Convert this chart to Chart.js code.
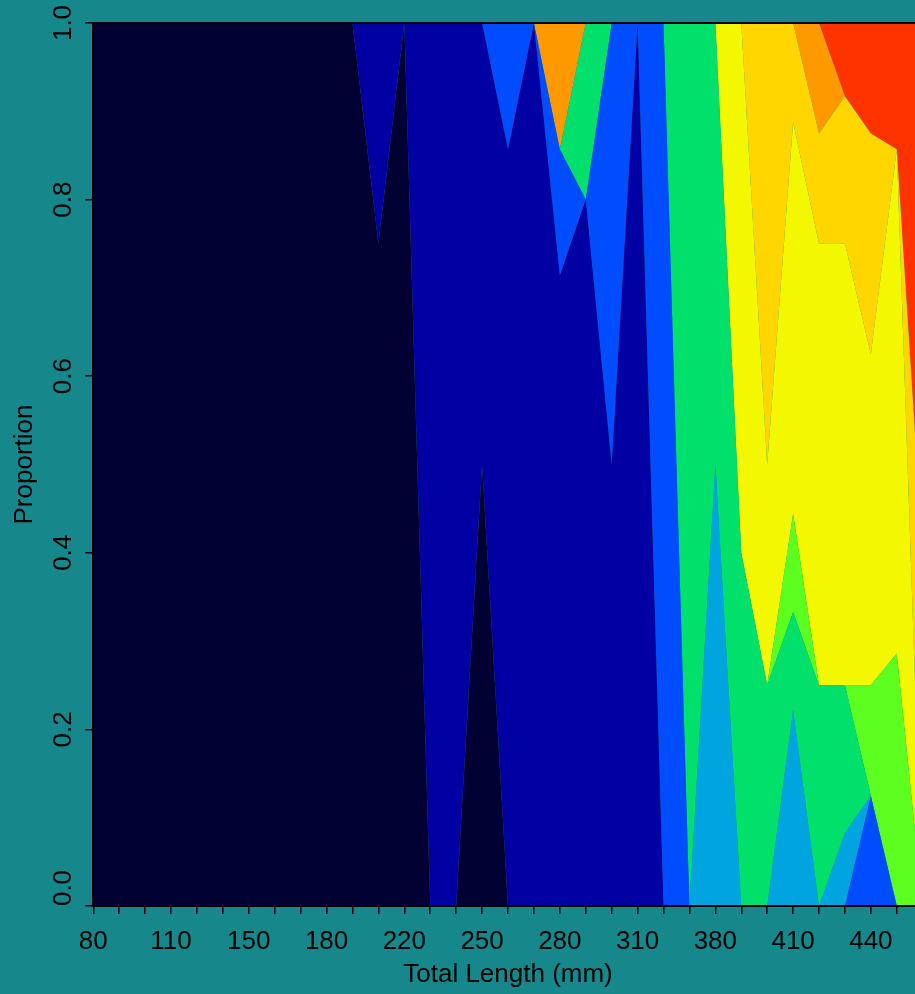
<!DOCTYPE html>
<html>
<head>
<meta charset="utf-8">
<script src="https://cdn.jsdelivr.net/npm/chart.js@4/dist/chart.umd.min.js"></script>
<style>
  html, body { margin: 0; padding: 0; background: #16878A; overflow: hidden; width: 915px; height: 994px; }
  canvas { position: absolute; left: 0; top: 0; }
</style>
</head>
<body>
<canvas id="c" width="940" height="994"></canvas>
<script>
// Total length classes (mm)
const lengthClasses = ['80','90','100','110','120','130','150','160','170','180','190','200','220','230','240','250','260','270','280','290','300','310','320','330','380','390','400','410','420','430','440','450','460'];

// Proportion at age, per length class (bottom to top of the stack)
const age1 = [1,1,1,1,1,1,1,1,1,1,1,0.75,1,0,0,0.5,0,0,0,0,0,0,0,0,0,0,0,0,0,0,0,0,0];
const age2 = [0,0,0,0,0,0,0,0,0,0,0,0.25,0,1,1,0.5,0.857,1,0.714,0.8,0.5,1,0,0,0,0,0,0,0,0,0,0,0];
const age3 = [0,0,0,0,0,0,0,0,0,0,0,0,0,0,0,0,0.143,0,0.143,0,0.5,0,1,0,0,0,0,0,0,0,0.125,0,0];
const age4 = [0,0,0,0,0,0,0,0,0,0,0,0,0,0,0,0,0,0,0,0,0,0,0,0,0.5,0,0,0.222,0,0.083,0,0,0];
const age5 = [0,0,0,0,0,0,0,0,0,0,0,0,0,0,0,0,0,0,0,0.2,0,0,0,1,0.5,0.4,0.25,0.111,0.25,0.167,0,0,0];
const age6 = [0,0,0,0,0,0,0,0,0,0,0,0,0,0,0,0,0,0,0,0,0,0,0,0,0,0,0,0.111,0,0,0.125,0.286,0];
const age7 = [0,0,0,0,0,0,0,0,0,0,0,0,0,0,0,0,0,0,0,0,0,0,0,0,0,0.6,0.25,0.444,0.5,0.5,0.375,0.571,0];
const age8 = [0,0,0,0,0,0,0,0,0,0,0,0,0,0,0,0,0,0,0,0,0,0,0,0,0,0,0.5,0.112,0.125,0.167,0.25,0,0.4];
const age9 = [0,0,0,0,0,0,0,0,0,0,0,0,0,0,0,0,0,0,0.143,0,0,0,0,0,0,0,0,0,0.125,0,0,0,0];
const age10 = [0,0,0,0,0,0,0,0,0,0,0,0,0,0,0,0,0,0,0,0,0,0,0,0,0,0,0,0,0,0.083,0.125,0.143,0.6];

const yTicks = [0, 0.2, 0.4, 0.6, 0.8, 1.0];

const series = [age1, age2, age3, age4, age5, age6, age7, age8, age9, age10];
const colors = ['#000033','#0000A3','#004DFF','#00A5E0','#00E06B','#5CFF1F','#F3F700','#FFD600','#FF9900','#FF3300'];

const FONT = { family: "'Liberation Sans', Arial, sans-serif", size: 26 };

const datasets = series.map((d, i) => ({
  label: 'Age ' + (i + 1),
  data: d,
  xAxisID: 'x',
  yAxisID: 'y',
  backgroundColor: colors[i],
  borderColor: 'rgba(0,0,0,0)',
  borderWidth: 0,
  pointRadius: 0,
  pointHoverRadius: 0,
  tension: 0,
  fill: i === 0 ? 'origin' : '-1'
}));

const shiftZeroLabel = {
  id: 'shiftZeroLabel',
  beforeDraw(chart) {
    const s = chart.scales.y;
    const items = s.getLabelItems(chart.chartArea);
    items.forEach((it, k) => {
      if (s.ticks[k] && s.ticks[k].value === 0 && !it._shifted) {
        it.options.translation = [it.options.translation[0], it.options.translation[1] - 18];
        it._shifted = true;
      }
    });
  }
};

new Chart(document.getElementById('c'), {
  type: 'line',
  data: { labels: lengthClasses, datasets },
  options: {
    responsive: false,
    animation: false,
    events: [],
    layout: { padding: { top: 23, right: 17.3, left: 0, bottom: 0 } },
    plugins: { legend: { display: false }, tooltip: { enabled: false } },
    scales: {
      x: {
        type: 'category',
        position: 'bottom',
        offset: false,
        afterFit: s => { s.height = 88; },
        grid: { display: true, drawOnChartArea: false, drawTicks: true, tickLength: 8, color: '#000', lineWidth: 1.5, offset: false },
        border: { display: true, color: '#000', width: 2, z: 1 },
        ticks: {
          autoSkip: false, maxRotation: 0, minRotation: 0, padding: 12, color: '#000', font: FONT,
          callback: function (v, i) { return i % 3 === 0 ? this.getLabelForValue(v) : ''; }
        },
        title: { display: true, text: 'Total Length (mm)', color: '#000', font: FONT, padding: { top: 0, bottom: 4 } }
      },
      x2: {
        type: 'category',
        position: 'top',
        afterFit: s => { s.height = 0; },
        grid: { display: false },
        border: { display: true, color: '#000', width: 2, z: 1 },
        ticks: { display: false }
      },
      y: {
        stacked: true,
        min: 0,
        max: 1,
        position: 'left',
        afterFit: s => { s.width = 93.3; },
        afterBuildTicks: s => { s.ticks = yTicks.map(v => ({ value: v })); },
        grid: { display: true, drawOnChartArea: false, drawTicks: true, tickLength: 8, color: '#000', lineWidth: 1.5 },
        border: { display: true, color: '#000', width: 2, z: 1 },
        ticks: {
          minRotation: 90, maxRotation: 90, crossAlign: 'center', padding: 3, color: '#000', font: FONT,
          callback: v => Number(v).toFixed(1)
        },
        title: { display: true, text: 'Proportion', color: '#000', font: FONT, padding: { top: 9, bottom: 0 } }
      }
    }
  },
  plugins: [shiftZeroLabel]
});
</script>
</body>
</html>
